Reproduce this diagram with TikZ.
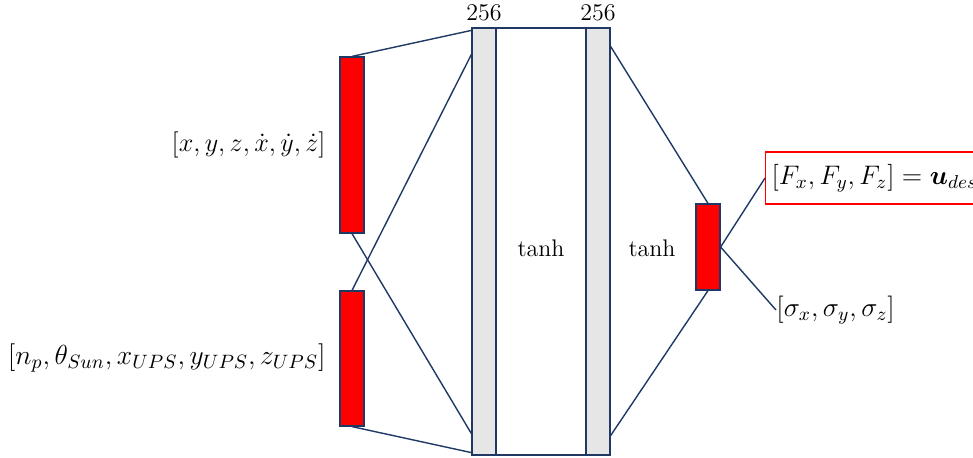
\RequirePackage{fix-cm}
\documentclass[tikz,border=0pt]{standalone}
\usepackage{bm}
\usetikzlibrary{calc}
\definecolor{navy}{RGB}{32,56,100}
\definecolor{lgray}{RGB}{230,230,230}
\begin{document}
\begin{tikzpicture}[x=0.5pt,y=-0.5pt,
  redbox/.style={draw=navy,fill=red,line width=0.6pt,inner sep=0pt,minimum width=12pt},
  colbox/.style={draw=navy,fill=lgray,line width=0.6pt,inner sep=0pt,minimum width=12pt,minimum height=213.5pt},
  conn/.style={draw=navy,line width=0.7pt},
  lbl/.style={inner sep=0pt,font=\large}]
\useasboundingbox (0,0) rectangle (973,457);
\node[draw=navy,line width=0.6pt,fill=white,inner sep=0pt,minimum width=45pt,minimum height=213.5pt] (mid) at (541,241.5) {};
\node[colbox] (c1) at (484,241.5) {};
\node[colbox] (c2) at (598,241.5) {};
\node[redbox,minimum height=88pt] (r1) at (352,145) {};
\node[redbox,minimum height=67.5pt] (r2) at (352,358.5) {};
\node[redbox,minimum height=43pt] (o) at (708,247) {};
\node[lbl] (n1) at (484,13) {256};
\node[lbl] (n2) at (598,13) {256};
\node[lbl] (t1) at (541,248) {tanh};
\node[lbl] (t2) at (652,248) {tanh};
\node[lbl,anchor=east,font=\fontsize{13.1}{16}\selectfont] (in1) at (326,145) {$[x,y,z,\dot{x},\dot{y},\dot{z}]$};
\node[lbl,anchor=east,font=\fontsize{13.8}{16}\selectfont] (in2) at (326,358) {$[n_p,\theta_{Sun},x_{UPS},y_{UPS},z_{UPS}]$};
\node[draw=red,line width=0.6pt,anchor=west,inner xsep=3pt,minimum height=26pt,font=\fontsize{13.4}{17}\selectfont] (F) at (765,178) {$[F_x,F_y,F_z]=\bm{u}_{des}$\hspace{6pt}};
\node[lbl,anchor=west,font=\fontsize{13.6}{16}\selectfont] (S) at (776,310) {$[\sigma_x,\sigma_y,\sigma_z]$};
\draw[conn] (r1.north) -- ([yshift=-1.5pt]c1.north west);
\draw[conn] (r1.south) -- ([yshift=11pt]c1.south west);
\draw[conn] (r2.north) -- ([yshift=-13.5pt]c1.north west);
\draw[conn] (r2.south) -- ([yshift=1.5pt]c1.south west);
\draw[conn] ([yshift=-9.5pt]c2.north east) -- (o.north);
\draw[conn] (o.south) -- ([yshift=10pt]c2.south east);
\draw[conn] (o.east) -- (F.west);
\draw[conn] (o.east) -- (S.west);
\end{tikzpicture}
\end{document}
